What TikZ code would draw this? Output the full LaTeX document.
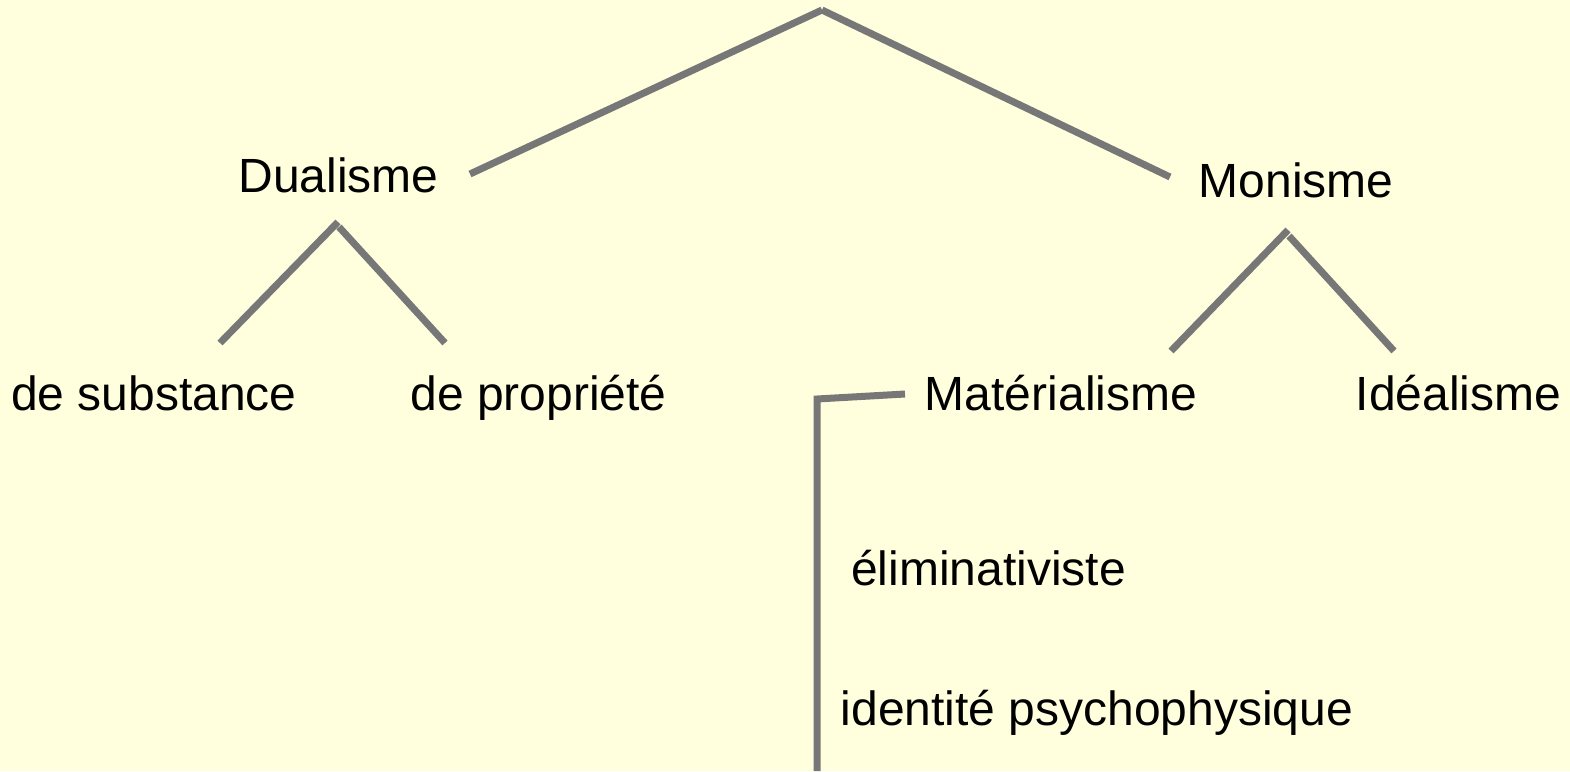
\documentclass[tikz,border=0pt]{standalone}
\usepackage{fontspec}
\setmainfont{Liberation Sans}
\definecolor{bgyellow}{HTML}{FFFFDD}
\definecolor{linegray}{HTML}{777777}
\begin{document}
\begin{tikzpicture}[x=1pt,y=-1pt,
  lbl/.style={anchor=base,inner sep=0pt,font=\fontsize{48}{57}\selectfont},
  conn/.style={draw=linegray,line width=7pt,line cap=butt}]
\fill[bgyellow] (0,0) rectangle (1570,771);
\useasboundingbox (0,0) rectangle (1570,771);
% labels
\node[lbl] (dual) at (338.5,192) {Dualisme};
\node[lbl] (mon) at (1296,197) {Monisme};
\node[lbl] (subst) at (154,410) {de substance};
\node[lbl] (prop) at (538.5,410) {de propriété};
\node[lbl] (mat) at (1061,410) {Matérialisme};
\node[lbl] (ideal) at (1458.5,410) {Idéalisme};
\node[lbl] (elim) at (988.5,585) {éliminativiste};
\node[lbl] (ident) at (1097,725) {identité psychophysique};
% connector end points
\coordinate (root) at (822,10);
\coordinate (dualR) at (470,174);
\coordinate (monL) at (1170,177);
\coordinate (dualTopL) at (338,222);
\coordinate (dualTopR) at (339,227);
\coordinate (substTop) at (220,343);
\coordinate (propTop) at (445,343);
\coordinate (monTopL) at (1288,230);
\coordinate (monTopR) at (1289,236);
\coordinate (matTop) at (1171,351);
\coordinate (idealTop) at (1394,351);
\coordinate (matL) at (905,394);
\coordinate (bend) at (817,399);
\coordinate (bottom) at (817,771);
% connectors
\draw[conn] (root) -- (dualR);
\draw[conn] (root) -- (monL);
\draw[conn] (dualTopL) -- (substTop);
\draw[conn] (dualTopR) -- (propTop);
\draw[conn] (monTopL) -- (matTop);
\draw[conn] (monTopR) -- (idealTop);
\draw[conn] (matL) -- (bend) -- (bottom);
\end{tikzpicture}
\end{document}
